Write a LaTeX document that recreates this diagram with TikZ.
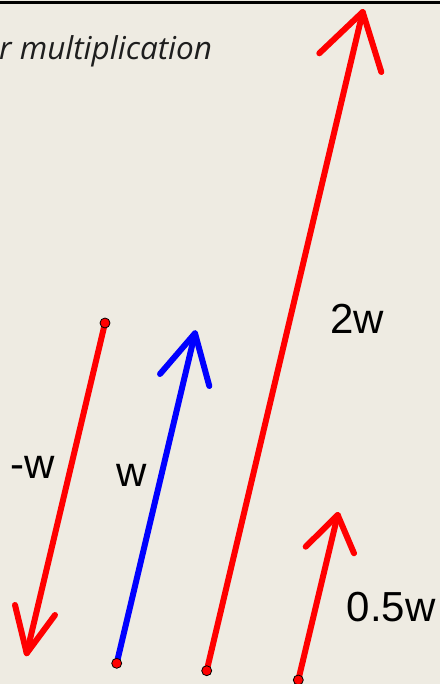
\documentclass[tikz,border=0pt]{standalone}
\usepackage{fontspec}
\setmainfont{Liberation Sans}
\newfontfamily\titlefont{Open Sans}
\definecolor{bg}{HTML}{EEEBE2}
\definecolor{titlecol}{HTML}{1E1E1E}
\begin{document}
\begin{tikzpicture}[x=1pt,y=-1pt,
  vec/.style={line width=6pt, line cap=round, line join=round},
  dot/.style={circle, fill=red, draw=black, line width=0.8pt, minimum size=10pt, inner sep=0pt},
  lbl/.style={font=\fontsize{42}{48}\selectfont, inner sep=0pt, anchor=base, text=black},
  ttl/.style={font=\titlefont\itshape\fontsize{31.5}{36}\selectfont, inner sep=0pt, anchor=base west, text=titlecol}]
\fill[bg] (0,0) rectangle (440,684);
\useasboundingbox (0,0) rectangle (440,684);
\draw[black, line width=3pt] (0,2.5) -- (440,2.5);
\begin{scope}
\clip (0,0) rectangle (440,684);
\node[ttl] (title) at (-1,60) {r multiplication};
\end{scope}
% -w
\coordinate (nwS) at (105,323);
\coordinate (nwT) at (26.7,653.3);
\coordinate (nwL) at (15,605);
\coordinate (nwR) at (55,615);
\draw[vec, red] (nwS) -- (nwT);
\draw[vec, red] (nwL) -- (nwT) -- (nwR);
% w
\coordinate (wS) at (116.7,663.3);
\coordinate (wT) at (195,333.3);
\coordinate (wL) at (160,374);
\coordinate (wR) at (209.3,386);
\draw[vec, blue] (wS) -- (wT);
\draw[vec, blue] (wL) -- (wT) -- (wR);
% 2w
\coordinate (twS) at (206.7,670.7);
\coordinate (twT) at (362.7,12);
\coordinate (twL) at (319.3,53.3);
\coordinate (twR) at (381.3,72);
\draw[vec, red] (twS) -- (twT);
\draw[vec, red] (twL) -- (twT) -- (twR);
% 0.5w
\coordinate (hwS) at (298.3,680);
\coordinate (hwT) at (337.7,515);
\coordinate (hwL) at (305.7,546.7);
\coordinate (hwR) at (354,553.3);
\draw[vec, red] (hwS) -- (hwT);
\draw[vec, red] (hwL) -- (hwT) -- (hwR);
% dots
\node[dot] (dnw) at (nwS) {};
\node[dot] (dw) at (wS) {};
\node[dot] (dtw) at (twS) {};
\node[dot] (dhw) at (hwS) {};
% labels
\node[lbl] (lnw) at (33,478) {-w};
\node[lbl] (lw) at (132,486) {w};
\node[lbl] (ltw) at (357,333) {2w};
\node[lbl] (lhw) at (391,621) {0.5w};
\end{tikzpicture}
\end{document}
